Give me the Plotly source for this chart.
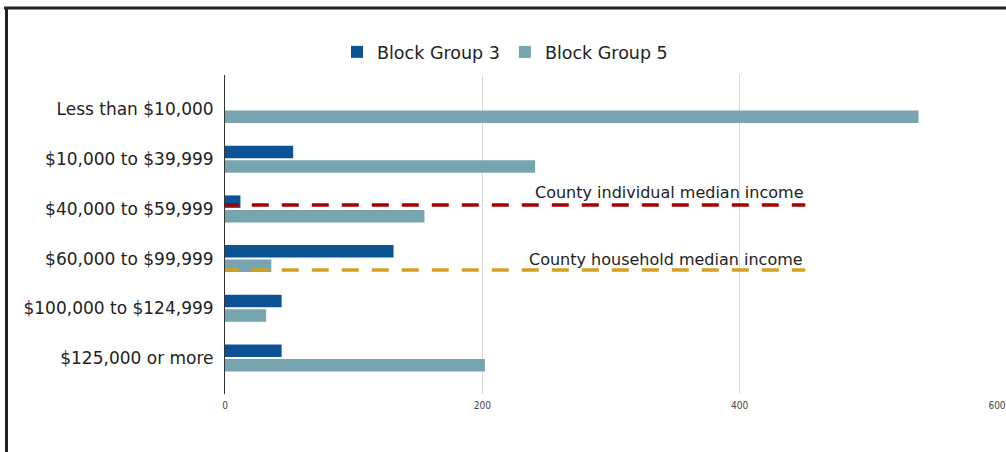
import plotly.graph_objects as go

# Household income distribution by block group
categories = [
    "Less than $10,000",
    "$10,000 to $39,999",
    "$40,000 to $59,999",
    "$60,000 to $99,999",
    "$100,000 to $124,999",
    "$125,000 or more",
]
block_group_3 = [0, 53, 12, 131, 44, 44]
block_group_5 = [539, 241, 155, 36, 32, 202]

x_ticks = [0, 200, 400, 600]

# Reference lines for county medians (category-axis position, x extent)
individual_median_pos = 1.92
household_median_pos = 3.23
median_line_end = 451

FONT = "DejaVu Sans, Liberation Sans, Arial, sans-serif"
BLUE = "#0b5394"
TEAL = "#76a5af"
RED = "#a80000"
GOLD = "#d4a020"

W, H = 1006, 452
L, R, T, B = 225, 9, 75, 58
plot_w = W - L - R
plot_h = H - T - B


def px_x(px):
    return (px - L) / plot_w


def px_y(py):
    return (H - B - py) / plot_h


fig = go.Figure()
fig.add_trace(go.Bar(
    y=categories, x=block_group_3, orientation="h", name="Block Group 3",
    marker=dict(color=BLUE, line=dict(width=0)),
))
fig.add_trace(go.Bar(
    y=categories, x=block_group_5, orientation="h", name="Block Group 5",
    marker=dict(color=TEAL, line=dict(width=0)),
))

# Dashed median lines
fig.add_shape(type="line", xref="x", yref="y",
              x0=-2.5, x1=median_line_end,
              y0=individual_median_pos, y1=individual_median_pos,
              line=dict(color=RED, width=3.5, dash="17px,13px"))
fig.add_shape(type="line", xref="x", yref="y",
              x0=-2.5, x1=median_line_end,
              y0=household_median_pos, y1=household_median_pos,
              line=dict(color=GOLD, width=3.5, dash="17px,13px"))

fig.add_annotation(x=median_line_end, y=1.66, xref="x", yref="y",
                   text="County individual median income", showarrow=False,
                   xanchor="right", yanchor="middle",
                   font=dict(family=FONT, size=16, color="#222222"))
fig.add_annotation(x=median_line_end, y=3.01, xref="x", yref="y",
                   text="County household median income", showarrow=False,
                   xanchor="right", yanchor="middle",
                   font=dict(family=FONT, size=16, color="#222222"))

# Outer frame (top and left edges)
fig.add_shape(type="line", xref="paper", yref="paper",
              x0=px_x(4), x1=px_x(1012), y0=px_y(8), y1=px_y(8),
              line=dict(color="#222222", width=3))
fig.add_shape(type="line", xref="paper", yref="paper",
              x0=px_x(6.5), x1=px_x(6.5), y0=px_y(7), y1=px_y(470),
              line=dict(color="#222222", width=3))

fig.update_layout(
    width=W, height=H,
    margin=dict(l=L, r=R, t=T, b=B, autoexpand=False),
    paper_bgcolor="white", plot_bgcolor="white",
    barmode="group", bargap=0.416, bargroupgap=0.14,
    font=dict(family=FONT, color="#222222"),
    showlegend=True,
    legend=dict(orientation="h", x=px_x(505), xanchor="center",
                y=px_y(52), yanchor="middle",
                font=dict(family=FONT, size=17.5, color="#222222"),
                itemwidth=30, traceorder="normal",
                bgcolor="rgba(0,0,0,0)"),
    xaxis=dict(range=[0, 600], tickvals=x_ticks,
               ticktext=[str(v) for v in x_ticks],
               showgrid=True, gridcolor="#d9d9d9", gridwidth=1,
               zeroline=False, showline=False, ticks="",
               ticklabelstandoff=4,
               tickfont=dict(family="DejaVu Sans Condensed, Liberation Sans Narrow, sans-serif",
                             size=10, color="#444444"),
               automargin=False),
    yaxis=dict(type="category", categoryorder="array", categoryarray=categories,
               range=[5.724, -0.694],
               showgrid=False, zeroline=False,
               showline=True, linecolor="#333333", linewidth=1,
               ticks="", ticklabelstandoff=7,
               tickfont=dict(family=FONT, size=17, color="#222222"),
               automargin=False),
)

fig.write_html("out.html")
